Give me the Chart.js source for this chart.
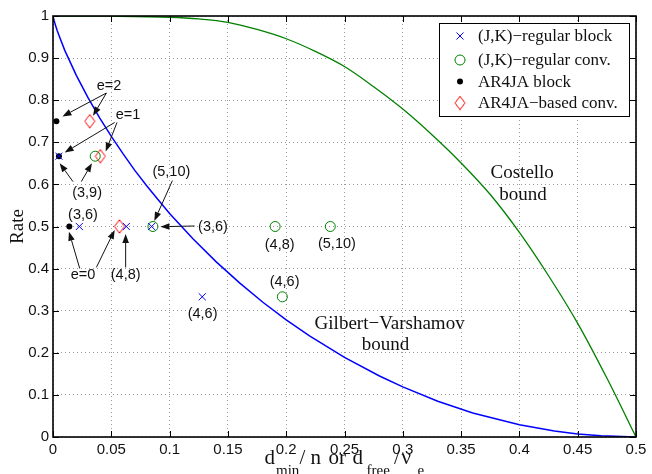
<!DOCTYPE html>
<html>
<head>
<meta charset="utf-8">
<script src="https://cdn.jsdelivr.net/npm/chart.js@4.4.1/dist/chart.umd.min.js"></script>
<style>
  html, body { margin: 0; padding: 0; background: #fff; }
  canvas { display: block; }
</style>
</head>
<body>
<canvas id="rateChart" width="652" height="474"></canvas>
<script>
// axis ticks
const xTicks = [0, 0.05, 0.1, 0.15, 0.2, 0.25, 0.3, 0.35, 0.4, 0.45, 0.5];
const xTickLabels = ['0', '0.05', '0.1', '0.15', '0.2', '0.25', '0.3', '0.35', '0.4', '0.45', '0.5'];
const yTicks = [0, 0.1, 0.2, 0.3, 0.4, 0.5, 0.6, 0.7, 0.8, 0.9, 1];
const yTickLabels = ['0', '0.1', '0.2', '0.3', '0.4', '0.5', '0.6', '0.7', '0.8', '0.9', '1'];

// Gilbert-Varshamov bound
const gvX = [0, 0.001, 0.002, 0.0035, 0.005, 0.01, 0.02, 0.03, 0.04, 0.05, 0.06, 0.07, 0.08, 0.09, 0.1,
  0.12, 0.14, 0.16, 0.18, 0.2, 0.22, 0.25, 0.28, 0.3, 0.33, 0.36, 0.4, 0.43, 0.45, 0.47, 0.5];
const gvRate = [1, 0.989, 0.979, 0.966, 0.955, 0.919, 0.859, 0.806, 0.758, 0.714, 0.673, 0.634, 0.598, 0.564, 0.531,
  0.471, 0.416, 0.366, 0.320, 0.278, 0.240, 0.189, 0.145, 0.119, 0.085, 0.057, 0.029, 0.014, 0.007, 0.003, 0];

// Costello bound
const cbX = [0, 0.05, 0.1, 0.125, 0.15, 0.175, 0.2, 0.225, 0.25, 0.275, 0.3, 0.325, 0.35, 0.375, 0.4, 0.425, 0.45, 0.475, 0.5];
const cbRate = [1, 0.9995, 0.997, 0.993, 0.985, 0.968, 0.946, 0.916, 0.880, 0.832, 0.779, 0.718, 0.651, 0.576, 0.486, 0.383, 0.27, 0.14, 0];

// (J,K)-regular block
const jkBlockX = [0.0051, 0.0226, 0.0629, 0.0846, 0.128];
const jkBlockRate = [0.667, 0.5, 0.5, 0.5, 0.333];
// (J,K)-regular conv.
const jkConvX = [0.0362, 0.0857, 0.1905, 0.2378, 0.1967];
const jkConvRate = [0.667, 0.5, 0.5, 0.5, 0.333];
// AR4JA block
const arBlockX = [0.0029, 0.0051, 0.014];
const arBlockRate = [0.75, 0.667, 0.5];
// AR4JA-based conv.
const arConvX = [0.0315, 0.0406, 0.057];
const arConvRate = [0.75, 0.667, 0.5];

const seriesNames = ['(J,K)\u2212regular block', '(J,K)\u2212regular conv.', 'AR4JA block', 'AR4JA\u2212based conv.'];

// text labels and arrows, in data units
const labels = [
  ['e=2', 0.048, 0.834], ['e=1', 0.0643, 0.7655], ['(3,9)', 0.0292, 0.5805],
  ['(3,6)', 0.0257, 0.5274], ['e=0', 0.0257, 0.3845], ['(4,8)', 0.0623, 0.3845],
  ['(4,6)', 0.1283, 0.2917], ['(5,10)', 0.1015, 0.6305], ['(3,6)', 0.1372, 0.4995],
  ['(4,8)', 0.1944, 0.456], ['(5,10)', 0.2435, 0.4583], ['(4,6)', 0.1986, 0.3686]
];
const boundLabels = [
  ['Gilbert\u2212Varshamov', 0.2887, 0.2695], ['bound', 0.2852, 0.2195],
  ['Costello', 0.4024, 0.628], ['bound', 0.403, 0.575]
];
const arrows = [
  [0.0458, 0.8171, 0.0081, 0.7614], [0.0458, 0.8171, 0.0343, 0.7631],
  [0.0529, 0.7471, 0.0100, 0.6757], [0.0549, 0.7471, 0.0452, 0.6781],
  [0.0171, 0.6067, 0.0057, 0.6505], [0.0243, 0.6067, 0.0334, 0.6505],
  [0.0229, 0.4005, 0.0137, 0.4876], [0.0372, 0.4029, 0.0529, 0.4917],
  [0.0623, 0.4029, 0.0623, 0.4821],
  [0.1024, 0.6090, 0.0869, 0.5131], [0.1215, 0.5012, 0.0921, 0.4995]
];

const pts = (xs, ys) => xs.map((x, i) => ({x: x, y: ys[i]}));

const SANS = '"Liberation Sans", Arial, sans-serif';
const SERIF = '"Liberation Serif", "Times New Roman", serif';
const BLUE = 'rgb(0,0,255)';
const GREEN = 'rgb(0,128,0)';
const RED = 'rgb(255,0,0)';

// matlab style diamond (taller than wide)
const diamond = document.createElement('canvas');
diamond.width = 12;
diamond.height = 15;
(function () {
  const c = diamond.getContext('2d');
  c.strokeStyle = RED;
  c.lineWidth = 1;
  c.beginPath();
  c.moveTo(6, 0.8); c.lineTo(11, 7.5); c.lineTo(6, 14.2); c.lineTo(1, 7.5);
  c.closePath();
  c.stroke();
})();

function drawArrow(ctx, x1, y1, x2, y2) {
  const a = Math.atan2(y2 - y1, x2 - x1);
  const len = 9, half = 3.3;
  const bx = x2 - len * Math.cos(a), by = y2 - len * Math.sin(a);
  ctx.beginPath();
  ctx.moveTo(x1, y1);
  ctx.lineTo(bx, by);
  ctx.stroke();
  ctx.beginPath();
  ctx.moveTo(x2, y2);
  ctx.lineTo(bx + half * Math.sin(a), by - half * Math.cos(a));
  ctx.lineTo(bx - half * Math.sin(a), by + half * Math.cos(a));
  ctx.closePath();
  ctx.fill();
}

const decorations = {
  id: 'decorations',
  afterDatasetsDraw(chart) {
    const ctx = chart.ctx;
    const xs = chart.scales.x, ys = chart.scales.y;
    const area = chart.chartArea;
    ctx.save();

    // annotations
    ctx.fillStyle = '#111';
    ctx.strokeStyle = '#111';
    ctx.lineWidth = 1;
    arrows.forEach(a => drawArrow(ctx, xs.getPixelForValue(a[0]), ys.getPixelForValue(a[1]),
      xs.getPixelForValue(a[2]), ys.getPixelForValue(a[3])));
    ctx.textAlign = 'center';
    ctx.textBaseline = 'middle';
    ctx.font = '14.5px ' + SANS;
    labels.forEach(l => ctx.fillText(l[0], xs.getPixelForValue(l[1]), ys.getPixelForValue(l[2])));
    ctx.font = '19px ' + SERIF;
    boundLabels.forEach(l => ctx.fillText(l[0], xs.getPixelForValue(l[1]), ys.getPixelForValue(l[2])));

    // box and inner ticks
    ctx.strokeStyle = '#000';
    ctx.lineWidth = 1;
    ctx.beginPath();
    xTicks.forEach(v => {
      const p = Math.round(xs.getPixelForValue(v)) + 0.5;
      ctx.moveTo(p, area.bottom); ctx.lineTo(p, area.bottom - 6);
      ctx.moveTo(p, area.top); ctx.lineTo(p, area.top + 6);
    });
    yTicks.forEach(v => {
      const p = Math.round(ys.getPixelForValue(v)) + 0.5;
      ctx.moveTo(area.left, p); ctx.lineTo(area.left + 6, p);
      ctx.moveTo(area.right, p); ctx.lineTo(area.right - 6, p);
    });
    ctx.stroke();
    ctx.lineWidth = 1.6;
    ctx.strokeRect(area.left, area.top, area.right - area.left, area.bottom - area.top);

    // legend
    const lx = area.right - 197, ly = area.top + 7;
    ctx.fillStyle = '#fff';
    ctx.fillRect(lx, ly, 190, 93);
    ctx.lineWidth = 1;
    ctx.strokeStyle = '#000';
    ctx.strokeRect(lx + 0.5, ly + 0.5, 190, 93);
    const mx = lx + 21;
    const rows = [ly + 13, ly + 37, ly + 58.5, ly + 80];
    // cross
    ctx.strokeStyle = BLUE;
    ctx.beginPath();
    ctx.moveTo(mx - 3.5, rows[0] - 3.5); ctx.lineTo(mx + 3.5, rows[0] + 3.5);
    ctx.moveTo(mx + 3.5, rows[0] - 3.5); ctx.lineTo(mx - 3.5, rows[0] + 3.5);
    ctx.stroke();
    // circle
    ctx.strokeStyle = GREEN;
    ctx.beginPath();
    ctx.arc(mx, rows[1], 5, 0, Math.PI * 2);
    ctx.stroke();
    // dot
    ctx.fillStyle = '#000';
    ctx.beginPath();
    ctx.arc(mx, rows[2], 3, 0, Math.PI * 2);
    ctx.fill();
    // diamond
    ctx.drawImage(diamond, mx - 6, rows[3] - 7.5);
    ctx.fillStyle = '#111';
    ctx.textAlign = 'left';
    ctx.font = '17px ' + SERIF;
    seriesNames.forEach((n, i) => ctx.fillText(n, lx + 39, rows[i] + 1));

    // axis titles
    ctx.save();
    ctx.translate(18, (area.top + area.bottom) / 2);
    ctx.rotate(-Math.PI / 2);
    ctx.textAlign = 'center';
    ctx.font = '19px ' + SERIF;
    ctx.fillText('Rate', 0, 0);
    ctx.restore();

    const cx = (area.left + area.right) / 2;
    const base = area.bottom + 27;
    const parts = [
      ['d', -80, 0], ['min', -68.5, 1], ['/ n', -45, 0], ['or', -16, 0],
      ['d', 8, 0], ['free', 22, 1], ['/', 49.5, 0], ['\u03bd', 57, 0], ['e', 73, 1]
    ];
    ctx.textBaseline = 'alphabetic';
    parts.forEach(p => {
      ctx.font = (p[2] ? '15px ' : '21px ') + SERIF;
      ctx.fillText(p[0], cx + p[1], base + (p[2] ? 11 : 0));
    });

    ctx.restore();
  }
};

new Chart(document.getElementById('rateChart'), {
  type: 'scatter',
  data: {
    datasets: [
      {
        label: 'Gilbert-Varshamov bound', data: pts(gvX, gvRate), showLine: true,
        borderColor: BLUE, borderWidth: 1.5, pointRadius: 0, order: 10
      },
      {
        label: 'Costello bound', data: pts(cbX, cbRate), showLine: true,
        borderColor: GREEN, borderWidth: 1.3, pointRadius: 0, cubicInterpolationMode: 'monotone', order: 10
      },
      {
        label: seriesNames[0], data: pts(jkBlockX, jkBlockRate), pointStyle: 'crossRot',
        pointRadius: 5, borderColor: BLUE, pointBorderWidth: 1, order: 1
      },
      {
        label: seriesNames[1], data: pts(jkConvX, jkConvRate), pointStyle: 'circle',
        pointRadius: 5, borderColor: GREEN, backgroundColor: 'rgba(0,0,0,0)', pointBorderWidth: 1, order: 1
      },
      {
        label: seriesNames[2], data: pts(arBlockX, arBlockRate), pointStyle: 'circle',
        pointRadius: 3, borderColor: '#000', backgroundColor: '#000', pointBorderWidth: 0, order: 1
      },
      {
        label: seriesNames[3], data: pts(arConvX, arConvRate), pointStyle: diamond, order: 1
      }
    ]
  },
  options: {
    responsive: false,
    animation: false,
    layout: {padding: {top: 16, right: 16, left: 0, bottom: 0}},
    plugins: {legend: {display: false}, tooltip: {enabled: false}},
    scales: {
      x: {
        type: 'linear', min: 0, max: 0.5,
        afterBuildTicks: s => { s.ticks = xTicks.map(v => ({value: v})); },
        afterFit: s => { s.height = 37; },
        ticks: {
          callback: (v, i) => xTickLabels[i], autoSkip: false, maxRotation: 0,
          padding: 4, color: '#111', font: {family: SANS, size: 15}
        },
        grid: {color: '#9a9a9a', lineWidth: 1, drawTicks: false},
        border: {display: false, dash: [1, 3]}
      },
      y: {
        type: 'linear', min: 0, max: 1,
        afterBuildTicks: s => { s.ticks = yTicks.map(v => ({value: v})); },
        afterFit: s => { s.width = 53; },
        ticks: {
          callback: (v, i) => yTickLabels[i], autoSkip: false,
          padding: 4, color: '#111', font: {family: SANS, size: 15}
        },
        grid: {color: '#9a9a9a', lineWidth: 1, drawTicks: false},
        border: {display: false, dash: [1, 3]}
      }
    }
  },
  plugins: [decorations]
});
</script>
</body>
</html>
